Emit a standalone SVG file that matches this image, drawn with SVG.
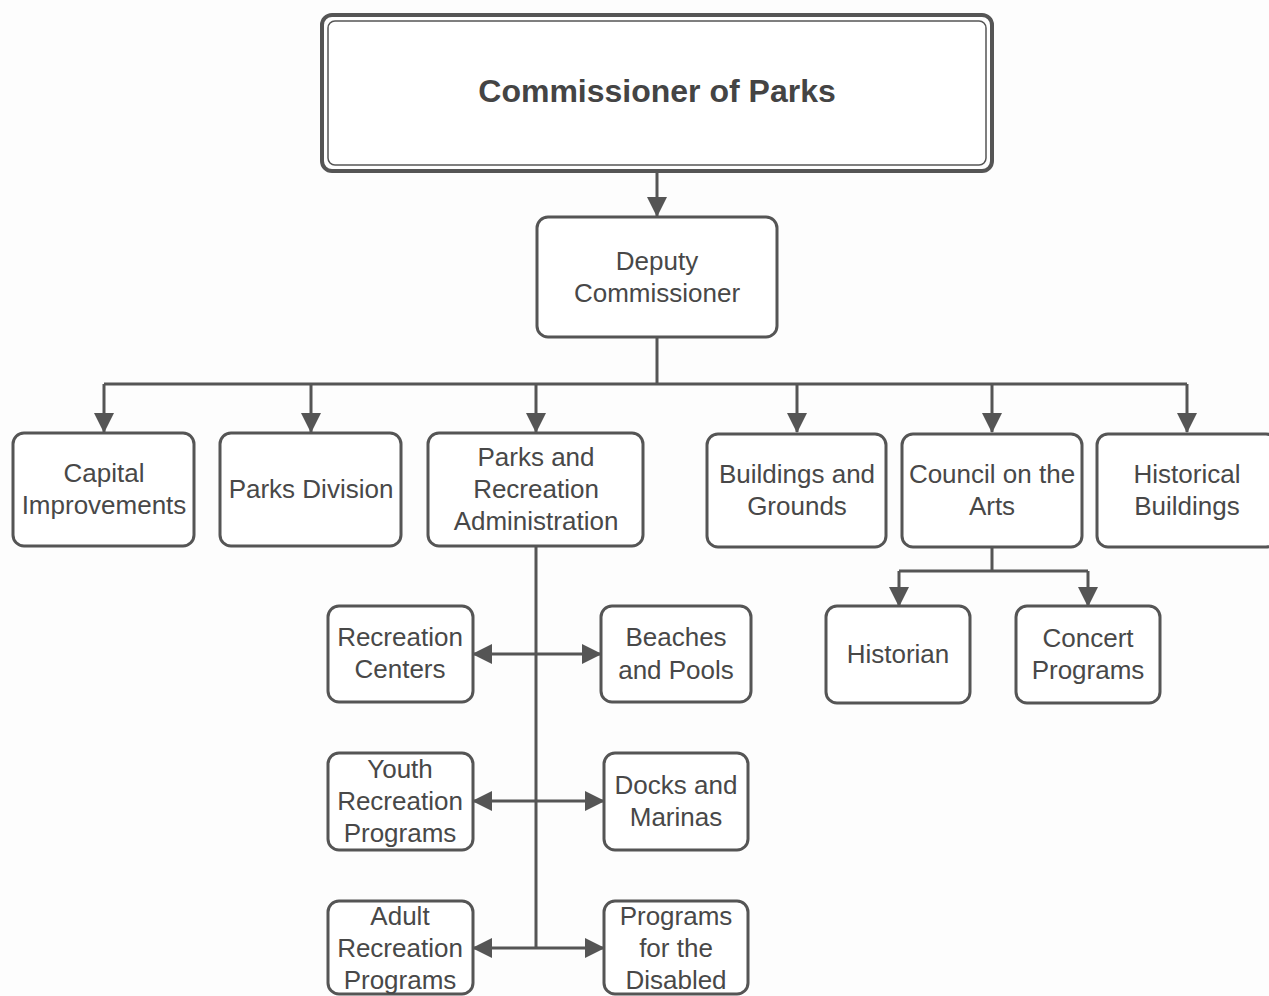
<svg xmlns="http://www.w3.org/2000/svg" width="1269" height="996" viewBox="0 0 1269 996">
  <style>
    .box { fill: #ffffff; stroke: #555555; stroke-width: 3; }
    .lbl { font-family: "Liberation Sans", Arial, sans-serif; font-size: 26px; fill: #484848; text-anchor: middle; }
    .title { font-family: "Liberation Sans", Arial, sans-serif; font-size: 32px; font-weight: bold; fill: #444444; text-anchor: middle; }
    .wire { fill: none; stroke: #555555; stroke-width: 3; }
  </style>
  <defs>
    <marker id="arrow" viewBox="0 0 20 22" refX="19" refY="11" markerWidth="20" markerHeight="22" markerUnits="userSpaceOnUse" orient="auto-start-reverse">
      <path d="M0,1 L20,11 L0,21 Z" fill="#555555"/>
    </marker>
  </defs>
  <rect width="1269" height="996" fill="#fdfdfd"/>

  <!-- connectors -->
  <g id="connectors">
    <line class="wire" x1="657" y1="171" x2="657" y2="216" marker-end="url(#arrow)"/>
    <polyline class="wire" points="657,337 657,384"/>
    <polyline class="wire" points="104,384 1187,384"/>
    <line class="wire" x1="104" y1="384" x2="104" y2="432" marker-end="url(#arrow)"/>
    <line class="wire" x1="311" y1="384" x2="311" y2="432" marker-end="url(#arrow)"/>
    <line class="wire" x1="536" y1="384" x2="536" y2="432" marker-end="url(#arrow)"/>
    <line class="wire" x1="797" y1="384" x2="797" y2="432" marker-end="url(#arrow)"/>
    <line class="wire" x1="992" y1="384" x2="992" y2="432" marker-end="url(#arrow)"/>
    <line class="wire" x1="1187" y1="384" x2="1187" y2="432" marker-end="url(#arrow)"/>
    <!-- administration spine -->
    <line class="wire" x1="536" y1="547" x2="536" y2="948"/>
    <line class="wire" x1="473" y1="654" x2="601" y2="654" marker-start="url(#arrow)" marker-end="url(#arrow)"/>
    <line class="wire" x1="473" y1="801" x2="604" y2="801" marker-start="url(#arrow)" marker-end="url(#arrow)"/>
    <line class="wire" x1="473" y1="948" x2="604" y2="948" marker-start="url(#arrow)" marker-end="url(#arrow)"/>
    <!-- arts branch -->
    <polyline class="wire" points="992,547 992,571"/>
    <polyline class="wire" points="899,571 1088,571"/>
    <line class="wire" x1="899" y1="571" x2="899" y2="606" marker-end="url(#arrow)"/>
    <line class="wire" x1="1088" y1="571" x2="1088" y2="606" marker-end="url(#arrow)"/>
  </g>

  <g id="commissioner">
    <rect x="322" y="15" width="670" height="156" rx="10" fill="#ffffff" stroke="#555555" stroke-width="4"/>
    <rect x="328" y="21" width="658" height="144" rx="7" fill="none" stroke="#555555" stroke-width="1.5"/>
    <text class="title" x="657" y="102">Commissioner of Parks</text>
  </g>

  <g id="deputy">
    <rect class="box" x="537" y="217" width="240" height="120" rx="11"/>
    <text class="lbl" x="657" y="270">Deputy</text>
    <text class="lbl" x="657" y="302">Commissioner</text>
  </g>

  <g id="capital">
    <rect class="box" x="13" y="433" width="181" height="113" rx="11"/>
    <text class="lbl" x="104" y="482">Capital</text>
    <text class="lbl" x="104" y="514">Improvements</text>
  </g>

  <g id="parks-division">
    <rect class="box" x="220" y="433" width="181" height="113" rx="11"/>
    <text class="lbl" x="311" y="498">Parks Division</text>
  </g>

  <g id="parks-rec-admin">
    <rect class="box" x="428" y="433" width="215" height="113" rx="11"/>
    <text class="lbl" x="536" y="466">Parks and</text>
    <text class="lbl" x="536" y="498">Recreation</text>
    <text class="lbl" x="536" y="530">Administration</text>
  </g>

  <g id="buildings-grounds">
    <rect class="box" x="707" y="434" width="179" height="113" rx="11"/>
    <text class="lbl" x="797" y="483">Buildings and</text>
    <text class="lbl" x="797" y="515">Grounds</text>
  </g>

  <g id="council-arts">
    <rect class="box" x="902" y="434" width="180" height="113" rx="11"/>
    <text class="lbl" x="992" y="483">Council on the</text>
    <text class="lbl" x="992" y="515">Arts</text>
  </g>

  <g id="historical-buildings">
    <rect class="box" x="1097" y="434" width="180" height="113" rx="11"/>
    <text class="lbl" x="1187" y="483">Historical</text>
    <text class="lbl" x="1187" y="515">Buildings</text>
  </g>

  <g id="recreation-centers">
    <rect class="box" x="328" y="606" width="145" height="96" rx="11"/>
    <text class="lbl" x="400" y="646">Recreation</text>
    <text class="lbl" x="400" y="678">Centers</text>
  </g>

  <g id="beaches-pools">
    <rect class="box" x="601" y="606" width="150" height="96" rx="11"/>
    <text class="lbl" x="676" y="646">Beaches</text>
    <text class="lbl" x="676" y="679">and Pools</text>
  </g>

  <g id="youth-programs">
    <rect class="box" x="328" y="753" width="145" height="97" rx="11"/>
    <text class="lbl" x="400" y="778">Youth</text>
    <text class="lbl" x="400" y="810">Recreation</text>
    <text class="lbl" x="400" y="842">Programs</text>
  </g>

  <g id="docks-marinas">
    <rect class="box" x="604" y="753" width="144" height="97" rx="11"/>
    <text class="lbl" x="676" y="794">Docks and</text>
    <text class="lbl" x="676" y="826">Marinas</text>
  </g>

  <g id="adult-programs">
    <rect class="box" x="328" y="901" width="145" height="93" rx="11"/>
    <text class="lbl" x="400" y="925">Adult</text>
    <text class="lbl" x="400" y="957">Recreation</text>
    <text class="lbl" x="400" y="989">Programs</text>
  </g>

  <g id="disabled-programs">
    <rect class="box" x="604" y="901" width="144" height="93" rx="11"/>
    <text class="lbl" x="676" y="925">Programs</text>
    <text class="lbl" x="676" y="957">for the</text>
    <text class="lbl" x="676" y="989">Disabled</text>
  </g>

  <g id="historian">
    <rect class="box" x="826" y="606" width="144" height="97" rx="11"/>
    <text class="lbl" x="898" y="663">Historian</text>
  </g>

  <g id="concert-programs">
    <rect class="box" x="1016" y="606" width="144" height="97" rx="11"/>
    <text class="lbl" x="1088" y="647">Concert</text>
    <text class="lbl" x="1088" y="679">Programs</text>
  </g>
</svg>
